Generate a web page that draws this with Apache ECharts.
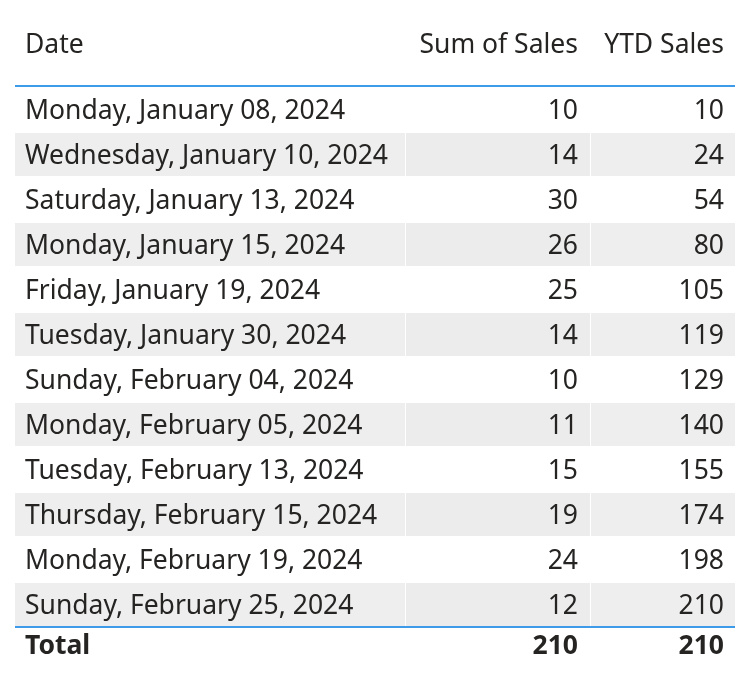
<!DOCTYPE html>
<html><head><meta charset="utf-8">
<script src="https://cdn.jsdelivr.net/npm/echarts@6/dist/echarts.min.js"></script>
<style>html,body{margin:0;padding:0;background:#fff}#c{width:751px;height:699px}</style>
</head><body><div id="c"></div>
<script>
const headers = ["Date", "Sum of Sales", "YTD Sales"];
const dates = ["Monday, January 08, 2024","Wednesday, January 10, 2024","Saturday, January 13, 2024","Monday, January 15, 2024","Friday, January 19, 2024","Tuesday, January 30, 2024","Sunday, February 04, 2024","Monday, February 05, 2024","Tuesday, February 13, 2024","Thursday, February 15, 2024","Monday, February 19, 2024","Sunday, February 25, 2024"];
const sales = [10,14,30,26,25,14,10,11,15,19,24,12];
const ytd = [10,24,54,80,105,119,129,140,155,174,198,210];
const totalLabel = "Total";
const totalSales = 210;
const totalYtd = 210;

const FONT = '"Segoe UI","Noto Sans",sans-serif';
const FS = 26.5;
const chart = echarts.init(document.getElementById('c'));
const rows = dates.map((d,i)=>[i, d, sales[i], ytd[i]]);
chart.setOption({
  animation:false,
  grid:{left:15,right:16,top:87,height:540},
  xAxis:{type:'value',min:0,max:720,show:false},
  yAxis:{type:'category',data:dates.map((d,i)=>i),inverse:true,show:false},
  series:[{
    type:'custom',
    data:rows,
    encode:{x:-1,y:0},
    renderItem:function(params,api){
      const i=api.value(0);
      const c=api.coord([0,i]);
      const h=api.size([0,1])[1];
      const x0=api.coord([0,i])[0], x1=api.coord([720,i])[0];
      const xs1=api.coord([390,i])[0], xs2=api.coord([575,i])[0];
      const children=[];
      if(i%2===1){
        children.push({type:'rect',shape:{x:x0,y:c[1]-h/2+1,width:xs1-x0,height:h-2},style:{fill:'#eeeeee'}});
        children.push({type:'rect',shape:{x:xs1+1,y:c[1]-h/2+1,width:xs2-xs1-1,height:h-2},style:{fill:'#ececec'}});
        children.push({type:'rect',shape:{x:xs2+1,y:c[1]-h/2+1,width:x1-xs2-1,height:h-2},style:{fill:'#eeeeee'}});
      }
      const st={fontFamily:FONT,fontSize:FS,fill:'#252423',verticalAlign:'middle'};
      const y=c[1]+2;
      children.push({type:'text',style:Object.assign({},st,{text:dates[i],x:api.coord([10,i])[0],y:y,align:'left'})});
      children.push({type:'text',style:Object.assign({},st,{text:String(api.value(2)),x:api.coord([563,i])[0],y:y,align:'right'})});
      children.push({type:'text',style:Object.assign({},st,{text:String(api.value(3)),x:api.coord([709,i])[0],y:y,align:'right'})});
      return {type:'group',children};
    }
  }],
  graphic:[
    {type:'text',left:25,top:32,style:{text:headers[0],fontFamily:FONT,fontSize:FS,fill:'#252423'}},
    {type:'text',right:173,top:32,style:{text:headers[1],fontFamily:FONT,fontSize:FS,fill:'#252423'}},
    {type:'text',right:27,top:32,style:{text:headers[2],fontFamily:FONT,fontSize:FS,fill:'#252423'}},
    {type:'rect',shape:{x:15,y:85,width:720,height:2},style:{fill:'#3d9be9'}},
    {type:'rect',shape:{x:15,y:626,width:720,height:2},style:{fill:'#3d9be9'}},
    {type:'text',left:25,top:633,style:{text:totalLabel,fontFamily:FONT,fontSize:FS,fontWeight:'bold',fill:'#252423'}},
    {type:'text',right:173,top:633,style:{text:String(totalSales),fontFamily:FONT,fontSize:FS,fontWeight:'bold',fill:'#252423'}},
    {type:'text',right:27,top:633,style:{text:String(totalYtd),fontFamily:FONT,fontSize:FS,fontWeight:'bold',fill:'#252423'}}
  ]
});
</script></body></html>
